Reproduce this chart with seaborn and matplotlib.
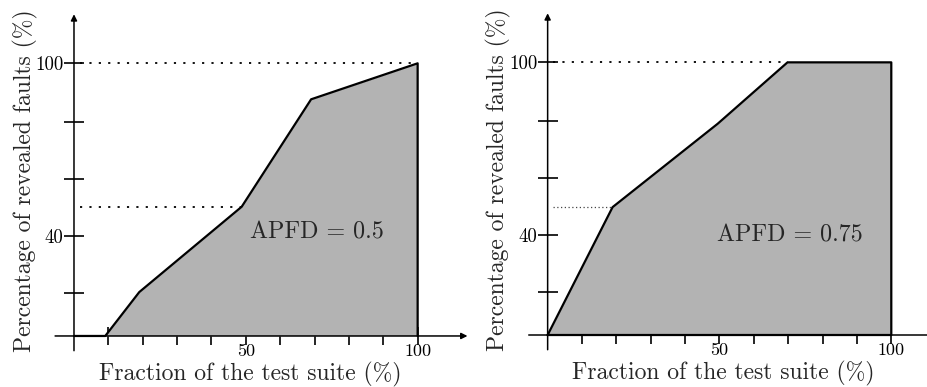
import matplotlib
matplotlib.use("Agg")
import matplotlib.pyplot as plt
import seaborn as sns

# ---- data ----
frac_left = [0, 9.1, 19.0, 48.8, 69.0, 100, 100]
faults_left = [0, 0, 16.1, 47.4, 86.8, 100, 0]
frac_right = [0, 18.9, 49.5, 69.8, 100, 100, 0]
faults_right = [0, 46.9, 77.5, 100, 100, 0, 0]
apfd_labels = ["APFD = 0.5", "APFD = 0.75"]
x_ticks = [10, 20, 30, 40, 50, 60, 70, 80, 90, 100]
x_tick_labels = ["", "", "", "", "50", "", "", "", "", "100"]
y_ticks = [15.6, 36.8, 57.6, 78.6, 100]
y_tick_labels = ["", "40", "", "", "100"]
mid_level = [47.4, 46.9]
mid_frac = [48.8, 18.9]
top_frac = [100, 69.8]
xlabel = "Fraction of the test suite (%)"
ylabel = "Percentage of revealed faults (%)"

sns.set_style("white")
plt.rcParams["font.family"] = ["cmr10", "DejaVu Serif"]
plt.rcParams["mathtext.fontset"] = "cm"
plt.rcParams["axes.formatter.use_mathtext"] = True

fig = plt.figure(figsize=(9.28, 3.87), dpi=100)
axL = fig.add_axes([0.0427, 0.0755, 0.474, 0.9018])
axR = fig.add_axes([0.5531, 0.0780, 0.474, 0.9018])

panels = [
    (axL, frac_left, faults_left, apfd_labels[0], (51.2, 38.1), "black", (0, (1.2, 4.0)), 1.3),
    (axR, frac_right, faults_right, apfd_labels[1], (49.4, 36.7), "#444444", (0, (1.0, 2.0)), 0.9),
]

for i, (ax, xs, ys, lab, tpos, mcol, mls, mlw) in enumerate(panels):
    ax.set_facecolor("none")
    ax.set_xlim(-10, 118)
    ax.set_ylim(-8, 120)
    ax.fill_between(xs, ys, 0, color="#b3b3b3", lw=0, zorder=1)
    sns.lineplot(x=xs, y=ys, ax=ax, color="black", lw=1.6, sort=False,
                 estimator=None, zorder=3)
    # dotted guide lines
    ax.plot([1.7, top_frac[i]], [100, 100], color="black", ls=(0, (1.2, 4.0)),
            lw=1.3, zorder=2)
    ax.plot([1.7, mid_frac[i]], [mid_level[i], mid_level[i]], color=mcol,
            ls=mls, lw=mlw, zorder=2)
    # axes with arrows
    for s in ax.spines.values():
        s.set_visible(False)
    ax.spines["bottom"].set_position(("data", 0))
    ax.spines["left"].set_position(("data", 0))
    ax.annotate("", xy=(114.5, 0), xytext=(-5.5, 0),
                arrowprops=dict(arrowstyle="-|>", color="black", lw=1.1,
                                mutation_scale=9, shrinkA=0, shrinkB=0),
                annotation_clip=False, zorder=4)
    ax.annotate("", xy=(0, 118), xytext=(0, -5.4),
                arrowprops=dict(arrowstyle="-|>", color="black", lw=1.1,
                                mutation_scale=9, shrinkA=0, shrinkB=0),
                annotation_clip=False, zorder=4)
    ax.set_xticks(x_ticks)
    ax.set_xticklabels(x_tick_labels)
    ax.set_yticks(y_ticks)
    ax.set_yticklabels(y_tick_labels)
    ax.tick_params(axis="x", bottom=True, top=False, direction="inout",
                   length=13, width=1.2, labelsize=13, pad=-1, colors="black")
    ax.tick_params(axis="y", left=True, right=False, direction="inout",
                   length=15, width=1.2, labelsize=13.5, pad=0, colors="black")
    ax.grid(False)
    ax.text(tpos[0], tpos[1], lab, fontsize=17.3, ha="left", va="center", zorder=5)
    ax.set_xlabel(xlabel, fontsize=17)
    ax.set_ylabel(ylabel, fontsize=17)
    ax.xaxis.set_label_coords(0.478, -0.047)
    ax.yaxis.set_label_coords(-0.033, 0.507)
    ax.xaxis.label.set_va("center")
    ax.yaxis.label.set_va("center")

fig.savefig("out.png", dpi=100)
